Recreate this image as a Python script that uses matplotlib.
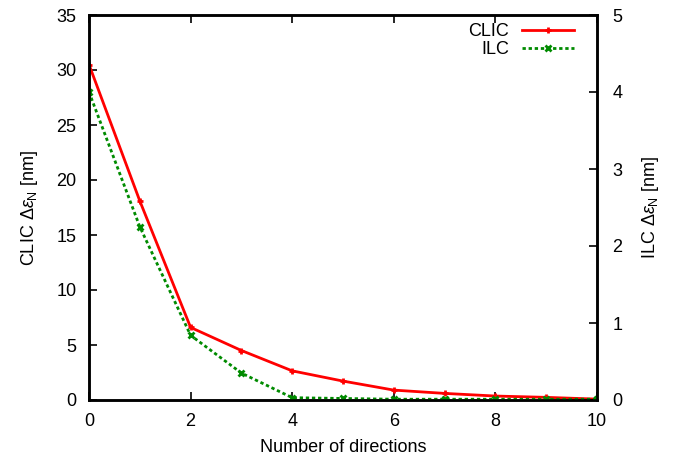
import matplotlib
matplotlib.use("Agg")
import matplotlib.pyplot as plt
import numpy as np

plt.rcParams['font.family'] = ['Liberation Sans', 'DejaVu Sans']
plt.rcParams['mathtext.fontset'] = 'custom'
plt.rcParams['mathtext.rm'] = 'Liberation Sans'
plt.rcParams['mathtext.it'] = 'Liberation Sans:italic'

# emittance growth vs number of corrected directions
directions = np.arange(0, 11)
clic_growth = [30.5, 18.1, 6.6, 4.5, 2.65, 1.72, 0.9, 0.6, 0.36, 0.24, 0.08]   # nm
ilc_growth = [4.0, 2.25, 0.84, 0.35, 0.03, 0.02, 0.01, 0.01, 0.01, 0.01, 0.01]  # nm

fig = plt.figure(figsize=(6.86, 4.57), dpi=100)
ax = fig.add_axes([89 / 686, 57 / 457, 508 / 686, 385 / 457])
ax2 = ax.twinx()

l1, = ax.plot(directions, clic_growth, color='#ff0000', lw=2.0,
              marker='+', ms=5, mew=2, label='CLIC')
l2, = ax2.plot(directions, ilc_growth, color='#008b00', lw=2.0,
               linestyle=(0, (1.2, 1.0)), marker='x', ms=5, mew=2, label='ILC')

ax.set_xlim(0, 10)
ax.set_ylim(0, 35)
ax2.set_ylim(0, 5)
ax.set_xticks(range(0, 11, 2))
ax.set_yticks(range(0, 36, 5))
ax2.set_yticks(range(0, 6))

for a in (ax, ax2):
    for s in a.spines.values():
        s.set_linewidth(1.8)
ax.tick_params(axis='x', direction='in', top=True, length=6, width=1.2,
               labelsize=13, pad=9)
ax.tick_params(axis='y', direction='in', length=6, width=1.2,
               labelsize=13, pad=9)
ax2.tick_params(axis='y', direction='in', length=6, width=1.2,
                labelsize=13, pad=11)

ax.set_xlabel('Number of directions', fontsize=13, labelpad=7)
ax.set_ylabel(r'CLIC $\Delta\varepsilon_{\rm N}$ [nm]', fontsize=13, labelpad=12)
ax2.set_ylabel(r'ILC $\Delta\varepsilon_{\rm N}$ [nm]', fontsize=13, labelpad=13)

leg = ax.legend(handles=[l1, l2], loc='upper right', bbox_to_anchor=(0.955, 0.978),
                frameon=False, markerfirst=False, fontsize=13, handlelength=2.9,
                borderaxespad=0, borderpad=0, labelspacing=0.05,
                handletextpad=0.7)
for t in leg.get_texts():
    t.set_ha('right')

fig.savefig('out.png', dpi=100)
